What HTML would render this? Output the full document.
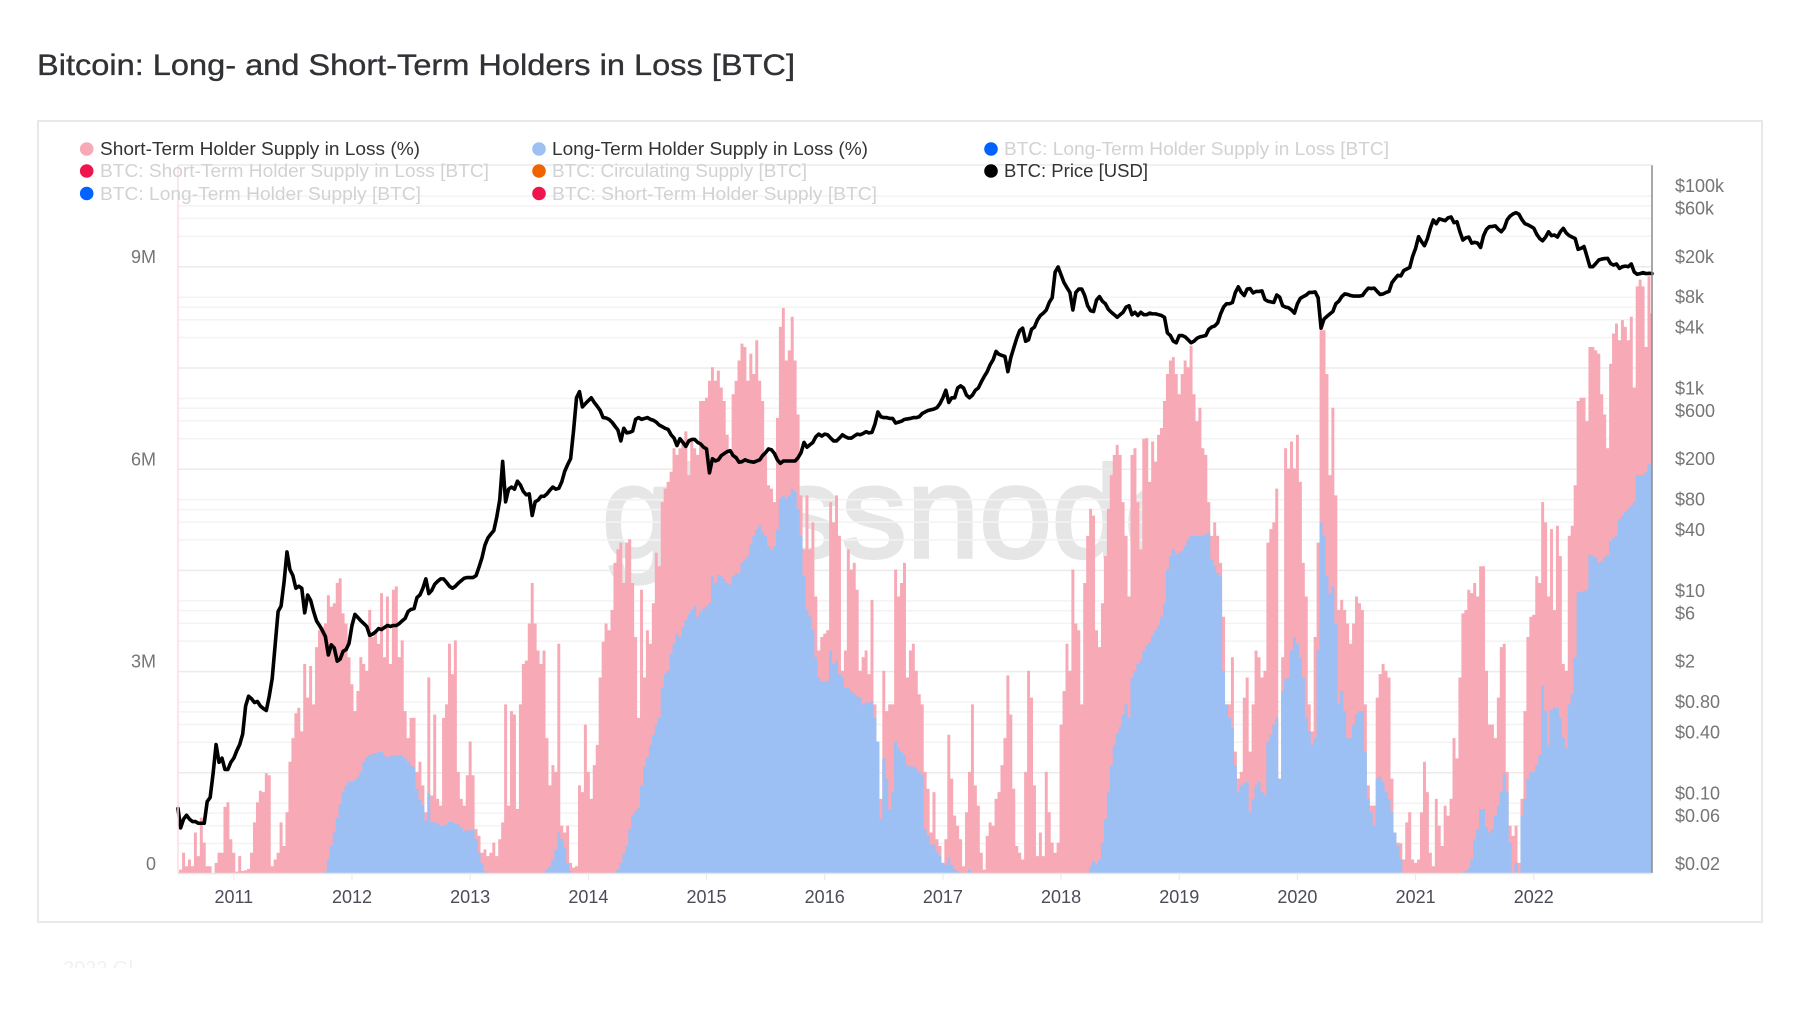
<!DOCTYPE html>
<html lang="en">
<head>
<meta charset="utf-8">
<title>Bitcoin: Long- and Short-Term Holders in Loss [BTC]</title>
<style>
html,body{margin:0;padding:0;background:#fff;width:1800px;height:1013px;overflow:hidden}
svg{display:block;font-family:"Liberation Sans",sans-serif}
</style>
</head>
<body>
<svg id="chart" xmlns="http://www.w3.org/2000/svg" width="1800" height="1013" viewBox="0 0 1800 1013">
  <defs><clipPath id="footer-clip"><rect x="40" y="950" width="200" height="18"/></clipPath></defs>
  <text x="37" y="75" font-size="30" fill="#303236" stroke="#303236" stroke-width="0.35" textLength="758" lengthAdjust="spacingAndGlyphs">Bitcoin: Long- and Short-Term Holders in Loss [BTC]</text>
  <rect x="38" y="121" width="1724" height="801" fill="#fff" stroke="#e8e8e8" stroke-width="2"/>
  <text x="602" y="557" font-size="130" fill="#e6e6e6" stroke="#e6e6e6" stroke-width="3.5" textLength="595" lengthAdjust="spacingAndGlyphs">glassnode</text>
  <g id="grid"></g>
  <g id="marks"></g>
  <line x1="178" y1="165" x2="178" y2="873" stroke="#fbdde2" stroke-width="1.5"/>
  <line x1="1652" y1="165" x2="1652" y2="873" stroke="#8c8c8c" stroke-width="1.5"/>
  <line x1="178" y1="165" x2="1652" y2="165" stroke="#ececec" stroke-width="1.5"/>
  <line x1="178" y1="873.5" x2="1652" y2="873.5" stroke="#e6e6e6" stroke-width="1.5"/>
  <g id="axes"></g>
  <g id="legend" font-size="18">
    <g><circle cx="86.7" cy="149" r="6.8" fill="#f7a9b6"/><text x="100" y="155" fill="#333" textLength="320" lengthAdjust="spacingAndGlyphs">Short-Term Holder Supply in Loss (%)</text></g>
    <g><circle cx="539" cy="149" r="6.8" fill="#9cbff4"/><text x="552" y="155" fill="#333" textLength="316" lengthAdjust="spacingAndGlyphs">Long-Term Holder Supply in Loss (%)</text></g>
    <g><circle cx="991" cy="149" r="6.8" fill="#0062ff"/><text x="1004" y="155" fill="#d2d2d2" textLength="385" lengthAdjust="spacingAndGlyphs">BTC: Long-Term Holder Supply in Loss [BTC]</text></g>
    <g><circle cx="86.7" cy="171" r="6.8" fill="#f0144c"/><text x="100" y="177" fill="#d2d2d2" textLength="389" lengthAdjust="spacingAndGlyphs">BTC: Short-Term Holder Supply in Loss [BTC]</text></g>
    <g><circle cx="539" cy="171" r="6.8" fill="#f06400"/><text x="552" y="177" fill="#d2d2d2" textLength="255" lengthAdjust="spacingAndGlyphs">BTC: Circulating Supply [BTC]</text></g>
    <g><circle cx="991" cy="171" r="6.8" fill="#000"/><text x="1004" y="177" fill="#333" textLength="144" lengthAdjust="spacingAndGlyphs">BTC: Price [USD]</text></g>
    <g><circle cx="86.7" cy="193.5" r="6.8" fill="#0062ff"/><text x="100" y="200" fill="#d2d2d2" textLength="321" lengthAdjust="spacingAndGlyphs">BTC: Long-Term Holder Supply [BTC]</text></g>
    <g><circle cx="539" cy="193.5" r="6.8" fill="#f0144c"/><text x="552" y="200" fill="#d2d2d2" textLength="325" lengthAdjust="spacingAndGlyphs">BTC: Short-Term Holder Supply [BTC]</text></g>
  </g>
  <text x="63" y="975" font-size="20" fill="#f1f1f1" clip-path="url(#footer-clip)">2022 Gl</text>
</svg>
<script>
// Samples: 40 per year. 19 samples in 2010, 40 for each of 2011-2022, one closing value.
const firstSampleYear = 2010.525;
const samplesPerYear = 40;

const yearTicks = [2011,2012,2013,2014,2015,2016,2017,2018,2019,2020,2021,2022];
const supplyTicks = [0,3,6,9];
const supplyTickLabels = ["0","3M","6M","9M"];
const priceTicks = [100000,60000,20000,8000,4000,1000,600,200,80,40,10,6,2,0.8,0.4,0.1,0.06,0.02];
const priceTickLabels = ["$100k","$60k","$20k","$8k","$4k","$1k","$600","$200","$80","$40","$10","$6","$2","$0.80","$0.40","$0.10","$0.06","$0.02"];
const gridDecades = [100000,10000,1000,100,10,1,0.1,0.01];
const gridMultipliers = [1,2,3,4,5];

// Short-term holder supply in loss, million BTC
const shortTermInLoss = [
0,.05,.3,.1,.2,.1,.6,.25,.82,.45,.1,.1,0,.15,.3,.3,.98,1.05,.5,
.3,.02,.25,.03,.04,.06,.3,.75,1.05,1.22,1.2,1.48,1.45,.1,.2,.3,.75,.4,.9,1.65,2.0,2.37,2.45,2.1,3.1,2.6,3.07,2.5,3.35,3.6,3.65,3.7,4.12,3.95,4.0,4.3,4.37,3.85,3.7,3.2,
2.8,2.4,2.7,3.2,3.1,3.0,3.9,3.5,3.6,3.4,4.15,3.2,4.1,3.1,4.2,4.25,3.2,3.45,2.4,2.0,2.3,2.3,1.5,1.65,1.3,.9,2.9,1.15,2.35,1.1,1.0,2.3,2.5,3.4,2.95,3.45,1.5,1.1,1.0,1.45,
1.95,1.45,.65,.55,.3,.35,.25,.3,.45,.25,.5,.75,2.5,1.0,2.4,2.35,.95,2.5,3.1,3.15,3.7,4.3,3.7,3.3,3.1,3.3,2.0,1.3,1.6,1.5,3.4,.7,.6,.7,.15,.08,.1,1.3,1.2,2.2,
1.5,1.1,1.6,1.9,2.9,3.43,3.7,3.6,3.9,4.6,4.8,4.9,4.3,4.9,4.95,4.3,3.5,2.3,4.2,2.9,3.6,3.4,4.0,4.75,4.55,5.5,5.7,5.8,5.95,6.3,6.2,6.3,6.4,6.55,5.9,6.4,6.3,6.2,7.0,7.0,
7.05,7.3,7.5,7.3,7.45,7.2,7.0,6.5,6.2,7.1,7.3,7.6,7.85,7.8,7.3,7.7,7.4,7.9,7.3,7.0,6.2,5.75,5.7,5.5,6.75,8.1,8.38,7.6,7.75,8.25,7.6,6.8,5.6,4.8,5.6,4.8,5.2,4.1,3.3,3.5,
3.55,3.6,5.5,5.2,5.6,5.0,3.0,3.3,4.8,4.5,4.6,4.2,3.0,3.2,3.3,2.95,4.05,2.5,1.9,1.1,3.0,2.4,2.5,2.5,4.5,4.1,4.3,4.6,2.9,3.3,3.4,3.0,2.65,2.5,1.5,1.25,.6,1.2,.5,.4,
.15,.5,2.05,1.4,.85,.7,.5,.1,.9,1.5,2.5,1.3,1.0,.3,.05,.55,.75,.7,1.1,1.2,1.6,2.0,2.93,2.35,1.25,.4,.3,.2,1.5,3.0,2.6,1.3,.25,.6,.25,1.5,.9,.45,.3,.45,
2.2,2.7,3.4,3.0,4.5,3.7,3.6,2.5,4.3,5.0,5.4,5.3,3.6,3.35,4.0,4.7,5.4,5.9,6.2,6.35,6.2,5.5,5.0,4.1,6.2,6.3,5.5,4.8,6.44,6.45,5.8,6.4,6.1,6.5,6.6,7.0,7.4,7.6,7.65,7.4,
7.1,7.4,7.6,7.5,7.82,7.1,6.7,6.9,6.3,6.2,5.5,5.0,5.2,5.0,4.6,3.8,2.5,2.5,3.2,1.8,1.4,1.5,2.6,2.9,1.8,2.5,3.3,3.2,2.9,3.0,4.9,5.1,5.2,5.7,1.4,3.2,6.3,6.0,6.4,6.0,
6.5,5.8,4.6,4.1,2.5,2.1,3.5,4.9,8.05,8.05,7.4,5.9,6.9,5.6,3.9,4.05,3.9,3.7,3.4,3.7,4.1,4.0,3.9,2.5,1.3,1.0,1.0,2.6,2.95,3.1,3.0,2.9,1.4,.6,.45,.44,.2,.75,.9,.2,
.15,.2,.9,1.65,1.2,.3,.1,1.1,.7,.4,1.0,.85,1.1,2.0,1.7,2.9,3.85,3.9,4.2,4.15,4.3,4.1,4.55,4.55,3.0,2.2,2.2,2.0,2.6,3.35,3.4,1.5,.7,.55,.7,.15,1.1,2.4,3.5,3.8,
3.83,4.4,4.3,5.5,5.2,4.1,5.1,3.9,5.15,4.7,3.1,3.0,5.0,5.15,5.75,7,7.05,7.05,6.7,7.8,7.8,7.75,7.7,7.1,6.8,6.3,7.55,8.0,8.15,7.9,8.2,8.1,7.9,8.25,7.2,8.7,8.8,8.7,7.8,8.85,
8.3];

// Long-term holder supply in loss, million BTC
const longTermInLoss = [
0,0,0,0,0,0,0,0,0,0,0,0,0,0,0,0,0,0,0,
0,0,0,0,0,0,0,0,0,0,0,0,0,0,0,0,0,0,0,0,0,0,0,0,0,0,0,0,0,0,0,.02,.2,.4,.6,.83,1.02,1.2,1.3,1.36,
1.35,1.38,1.42,1.5,1.65,1.72,1.75,1.77,1.78,1.79,1.8,1.75,1.72,1.73,1.74,1.74,1.75,1.74,1.7,1.65,1.6,1.57,1.25,1.08,1.0,.78,1.18,.75,.75,.73,.7,.7,.72,.76,.76,.73,.72,.67,.62,.63,
.63,.64,.5,.3,.15,.03,0,0,0,0,0,0,0,0,0,0,0,0,0,0,0,0,0,0,0,.01,.05,.1,.2,.35,.6,.5,.38,.15,.03,0,0,0,0,0,
0,0,0,0,0,0,0,0,0,.01,.05,.15,.28,.4,.65,.85,.92,.97,1.3,1.58,1.72,1.9,2.05,2.2,2.3,2.75,2.95,3.0,3.25,3.4,3.55,3.5,3.65,3.75,3.84,3.9,3.96,3.8,3.87,3.92,
3.95,4.0,4.4,4.3,4.42,4.4,4.36,4.3,4.28,4.4,4.45,4.45,4.6,4.65,4.7,4.87,5.0,5.1,5.16,5.05,5.0,4.85,4.8,4.85,5.1,5.55,5.6,5.55,5.6,5.7,5.65,5.4,5.0,4.4,3.9,3.8,3.6,3.2,2.9,2.85,
2.85,2.85,3.3,3.1,3.15,2.95,2.9,2.75,2.75,2.7,2.65,2.62,2.6,2.5,2.53,2.52,2.55,2.3,1.95,.8,1.7,1.4,.95,1.2,1.95,1.85,1.8,1.75,1.6,1.58,1.58,1.55,1.5,1.45,.65,.55,.42,.42,.32,.25,
.15,.12,.22,.12,.06,.03,.01,0,0,.05,0,0,0,0,0,0,0,0,0,0,0,0,0,0,0,0,0,0,0,0,0,0,0,0,0,0,0,0,0,0,
0,0,0,0,0,0,0,0,0,0,.1,.17,.13,.2,.45,.8,1.2,1.6,1.9,2.07,2.17,2.35,2.5,2.3,2.9,3.0,3.1,3.15,3.3,3.38,3.42,3.52,3.6,3.68,3.8,4.0,4.5,4.7,4.8,4.72,
4.75,4.78,4.85,4.95,5.0,5.0,5.0,5.0,5.0,5.02,5.05,4.65,4.55,4.45,4.4,3.0,2.5,2.3,2.15,1.6,1.2,1.3,1.33,1.35,.9,1.1,1.3,1.35,1.2,1.15,1.95,2.05,2.2,2.3,1.4,2.7,2.88,2.9,3.3,3.5,
3.4,3.2,2.9,2.3,2.1,1.9,2.0,3.3,5.2,5.0,4.4,4.15,4.25,3.7,2.5,2.7,2.4,2.0,2.0,2.2,2.35,2.4,2.4,1.8,1.1,.9,.7,1.4,1.43,1.35,1.2,1.1,.9,.6,.4,.2,0,0,0,0,
0,0,0,0,0,0,0,0,0,0,0,0,0,0,0,0,.01,.03,.07,.2,.5,.65,.95,.95,.68,.6,.65,.85,1.0,1.2,1.48,1.2,.45,.01,.15,0,.85,1.1,1.4,1.5,
1.5,1.6,1.75,2.78,2.4,1.9,2.42,2.45,2.45,2.3,2.0,1.85,2.5,2.65,3.2,4.16,4.17,4.18,4.2,4.72,4.7,4.68,4.6,4.62,4.68,4.72,4.93,4.97,5.0,5.25,5.3,5.36,5.4,5.44,5.5,5.9,5.9,5.9,5.95,6.07,
6.03];

// BTC price, USD
const btcPrice = [
.07,.045,.055,.06,.055,.052,.052,.05,.05,.05,.082,.09,.156,.3,.2,.22,.17,.17,.2,
.22,.26,.3,.38,.72,.9,.85,.78,.8,.72,.68,.65,.9,1.35,2.9,6.2,7.0,12,24,16,14,10.5,11,10.5,6,9,8,6.2,5,4.5,4,3.5,2.3,2.9,2.7,2,2.1,2.5,2.6,3,
4.5,5.8,5.4,5,4.7,4.4,3.6,3.7,3.9,4.2,4.1,4.3,4.5,4.4,4.5,4.5,4.7,5,5.3,6.2,6.5,6.6,8.5,9,10.5,13,9.3,10,11.5,12.3,13,13,12,11,10.5,11,11.8,12.5,13.2,13.4,
13.4,13.4,14,17,21,28,33,36,39,53,78,188,75,100,105,100,120,110,95,88,90,55,75,78,85,85,90,98,105,100,102,118,150,175,200,380,800,920,650,700,
750,800,720,660,600,510,505,490,460,420,385,300,400,360,365,375,490,510,490,500,510,490,480,460,430,415,400,390,345,320,270,315,290,265,300,310,310,290,280,260,
250,145,200,190,195,215,225,235,240,215,205,185,187,195,190,187,185,190,195,215,230,250,245,225,195,180,190,190,190,190,190,205,230,290,260,275,290,330,350,335,
350,345,320,300,300,320,345,330,320,320,335,350,345,355,370,360,365,440,580,520,510,510,500,500,450,460,470,490,495,500,510,510,520,560,580,600,610,620,640,700,
800,950,720,800,800,1000,1050,1000,850,800,850,950,1000,1150,1300,1450,1700,1900,2300,2150,2100,2050,1450,2000,2500,3100,3700,3900,2900,3000,3800,4000,4700,5200,5500,5900,7000,7800,14000,15700,
13100,11000,9800,8800,5900,8800,9500,9500,8200,6500,5800,5700,7400,8000,7200,6800,6000,5600,5300,5000,5300,5600,6300,6500,5300,5600,5200,5600,5300,5300,5500,5400,5400,5300,5200,5000,3500,3300,2900,2800,
3300,3300,3200,3000,2800,2900,3100,3200,3250,3300,3800,4000,4100,4400,5400,6300,6800,6800,7000,8800,10000,8800,8200,9500,9600,8700,9000,9000,9100,7500,7200,7100,7000,8300,7900,6500,6300,6200,5900,5500,
6800,7700,8000,8300,8800,8800,8900,7800,3900,4800,5100,5400,5700,6800,7200,8000,8500,8400,8200,8100,8100,8100,8200,9000,9700,9600,9700,9000,8400,8500,8800,9000,11000,12000,13000,12800,14500,15000,15500,20000,
24000,31300,28000,25500,30000,38000,45700,42000,47000,46000,45000,48000,49000,43000,44000,35000,29000,30500,31000,27000,27500,27000,24500,32000,37000,39300,39500,40000,37000,35000,38000,46000,50000,52500,54000,52000,46000,42000,41000,39500,
38000,33000,30000,28500,31000,35000,32000,32500,31000,35000,37800,34000,32000,31000,30000,23500,24000,25000,20000,15800,15800,17000,18400,18800,19000,19100,17000,16400,16800,15200,15800,16000,15800,16800,14000,13300,13500,13800,13500,13600,
13500];

const NS = "http://www.w3.org/2000/svg";
const plotBaseline = 873;
function xOfYear(year){ return 233.8 + (year - 2011) * 118.18; }
function xOfIndex(i){ return xOfYear(firstSampleYear + i / samplesPerYear); }
function yOfSupply(millions){ return plotBaseline - millions * 67.43; }
function yOfPrice(usd){ return 388 - 101.2 * Math.log10(usd / 1000); }
function yOfGrid(usd){ return yOfPrice(usd) - 20; }
function make(tag, parent, attrs){
  const el = document.createElementNS(NS, tag);
  for (const k in attrs) el.setAttribute(k, attrs[k]);
  parent.appendChild(el);
  return el;
}
function clampX(x){ return Math.min(1652, Math.max(178, x)).toFixed(2); }
function barsPath(values){
  let d = "M" + clampX(xOfIndex(-0.5)) + " " + plotBaseline;
  values.forEach(function(v, i){
    const top = yOfSupply(v).toFixed(2);
    d += "L" + clampX(xOfIndex(i - 0.5)) + " " + top + "L" + clampX(xOfIndex(i + 0.5)) + " " + top;
  });
  d += "L" + clampX(xOfIndex(values.length - 0.5)) + " " + plotBaseline + "Z";
  return d;
}
function linePath(values){
  let d = "";
  values.forEach(function(v, i){ d += (i ? "L" : "M") + clampX(xOfIndex(i)) + " " + yOfPrice(v).toFixed(2); });
  return d;
}

const gridGroup = document.getElementById("grid");
gridDecades.forEach(function(decade){
  gridMultipliers.forEach(function(m){
    const value = decade * m;
    const gy = yOfGrid(value);
    if (gy < 166 || gy > 872) return;
    const major = m === 1;
    const line = make("line", gridGroup, {x1:178, x2:1652, y1:gy, y2:gy, stroke: major ? "#ebebeb" : "#f3f3f3", "stroke-width": 1.5});
    
    
  });
});

const marks = document.getElementById("marks");
const pinkArea = make("path", marks, {d: barsPath(shortTermInLoss), fill:"#f7a9b6"});


const blueArea = make("path", marks, {d: barsPath(longTermInLoss), fill:"#9cbff4"});


const priceLine = make("path", marks, {d: linePath(btcPrice), fill:"none", stroke:"#000", "stroke-width":3.6, "stroke-linejoin":"round", "stroke-linecap":"round"});



const axes = document.getElementById("axes");
yearTicks.forEach(function(year){
  const tx = xOfYear(year);
  const tick = make("line", axes, {x1:tx, x2:tx, y1:873, y2:880, stroke:"#e8e8e8", "stroke-width":1});
  
  
  const label = make("text", axes, {x:tx, y:903, "text-anchor":"middle", "font-size":18, fill:"#4a4d59"});
  
  
  label.textContent = String(year);
});
supplyTicks.forEach(function(v, i){
  const label = make("text", axes, {x:156, y:yOfSupply(v) - 10 + 7, "text-anchor":"end", "font-size":18, fill:"#757575"});
  
  
  label.textContent = supplyTickLabels[i];
});
priceTicks.forEach(function(p, i){
  const label = make("text", axes, {x:1675, y:yOfPrice(p) + 6.5, "font-size":18, fill:"#757575"});
  
  
  label.textContent = priceTickLabels[i];
});
</script>
</body>
</html>
